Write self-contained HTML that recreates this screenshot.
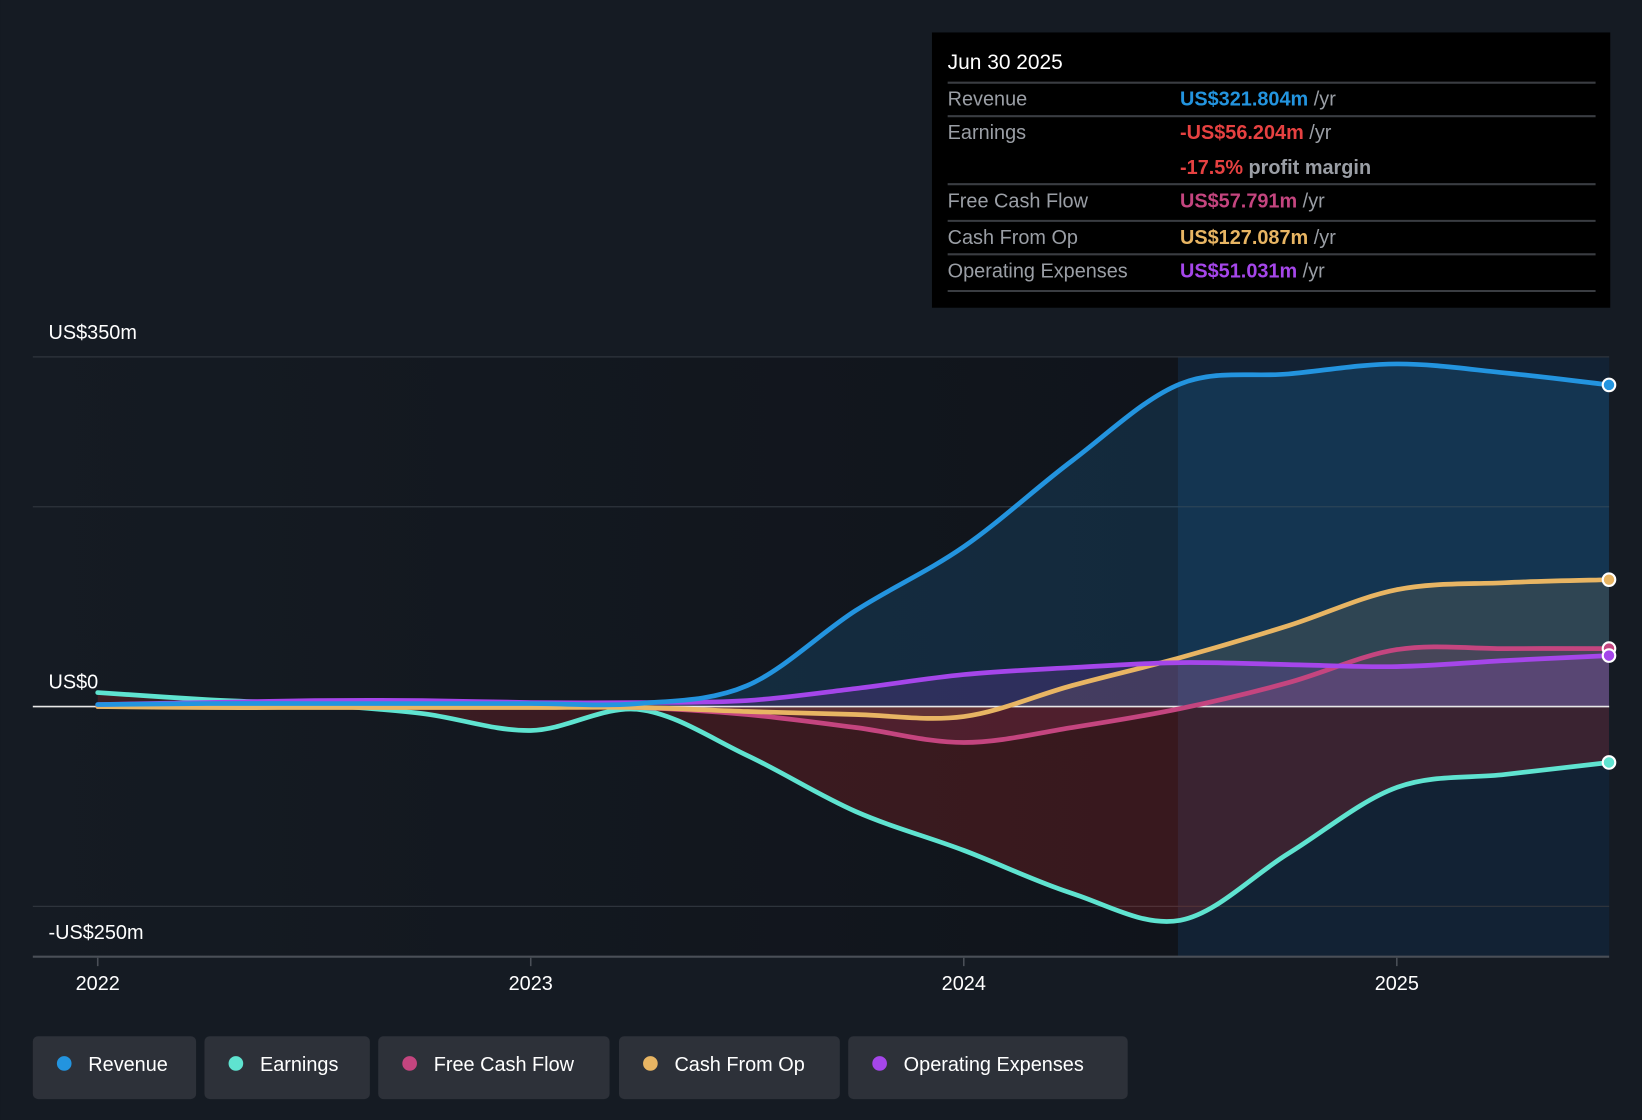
<!DOCTYPE html>
<html><head><meta charset="utf-8"><style>
html,body{margin:0;padding:0;background:#151b23;}
svg{display:block;font-family:"Liberation Sans",sans-serif;}
</style></head><body>
<svg id="c" width="1642" height="1120" viewBox="0 0 1568 1070">
<defs>
<linearGradient id="bgL" x1="0" x2="1" y1="0" y2="0"><stop offset="0" stop-color="#151b23"/><stop offset="1" stop-color="#10141b"/></linearGradient>
</defs>
<rect x="0" y="0" width="1568" height="1070" fill="#151b23"/>
<rect x="31" y="341" width="1094" height="573" fill="url(#bgL)"/>
<rect x="1125" y="341" width="412" height="573" fill="#122234"/>
<g id="grid"></g>
<g id="areas"></g>
<g id="lines"></g>
<g id="axis"></g>
<text x="46" y="324" fill="#fff" font-size="19">US$350m</text>
<text x="46" y="658" fill="#fff" font-size="19">US$0</text>
<text x="46" y="897" fill="#fff" font-size="19">-US$250m</text>
<g>
<rect x="890" y="31" width="648" height="263" fill="#000"/>
<text x="905" y="66" fill="#fff" font-size="20">Jun 30 2025</text>
<g stroke="#3a3d42" stroke-width="2">
<line x1="905" x2="1524" y1="79" y2="79"/><line x1="905" x2="1524" y1="111" y2="111"/>
<line x1="905" x2="1524" y1="176" y2="176"/><line x1="905" x2="1524" y1="211" y2="211"/>
<line x1="905" x2="1524" y1="243" y2="243"/><line x1="905" x2="1524" y1="278" y2="278"/>
</g>
<g font-size="19" fill="#9a9ea5">
<text x="905" y="101">Revenue</text><text x="905" y="133">Earnings</text>
<text x="905" y="198">Free Cash Flow</text><text x="905" y="233">Cash From Op</text>
<text x="905" y="265">Operating Expenses</text>
</g>
<g font-size="19" font-weight="bold">
<text x="1127" y="101"><tspan fill="#2394df">US$321.804m</tspan><tspan fill="#9a9ea5" font-weight="normal"> /yr</tspan></text>
<text x="1127" y="133"><tspan fill="#e64141">-US$56.204m</tspan><tspan fill="#9a9ea5" font-weight="normal"> /yr</tspan></text>
<text x="1127" y="166"><tspan fill="#e64141">-17.5%</tspan><tspan fill="#9a9ea5"> profit margin</tspan></text>
<text x="1127" y="198"><tspan fill="#c4457f">US$57.791m</tspan><tspan fill="#9a9ea5" font-weight="normal"> /yr</tspan></text>
<text x="1127" y="233"><tspan fill="#e8b563">US$127.087m</tspan><tspan fill="#9a9ea5" font-weight="normal"> /yr</tspan></text>
<text x="1127" y="265"><tspan fill="#a546ea">US$51.031m</tspan><tspan fill="#9a9ea5" font-weight="normal"> /yr</tspan></text>
</g>
</g>
<g id="legend"></g>
</svg>
<script>
const times=[2022,2022.25,2022.5,2022.75,2023,2023.25,2023.5,2023.75,2024,2024.25,2024.5,2024.75,2025,2025.25,2025.49];
const revenue=[2,3,3,3,3,3,21,96,160,246,323,333,343,334,322];
const earnings=[14,7,2,-7,-24,-3,-49,-105,-144,-187,-214,-147,-81,-68,-56];
const fcf=[0,0,0,0,0,-1,-8,-21,-36,-21,-2,24,57,58,58];
const cfo=[0,-1,-1,-1,-1,-1,-5,-8,-10,21,49,81,117,124,127];
const opex=[2,4,6,6,4,4,6,18,32,39,44,42,40,46,51];
const yTicks=[350,200,-200];
const xTicks=[2022,2023,2024,2025];
const NS="http://www.w3.org/2000/svg";
const X=t=>93+(t-2022)*413.7;
const Y=v=>675-v*0.9543;
function mk(tag,attrs,parent){const e=document.createElementNS(NS,tag);for(const k in attrs)e.setAttribute(k,attrs[k]);parent.appendChild(e);return e;}
function pathD(vals){const p=vals.map((v,i)=>[X(times[i]),Y(v)]);let d="M"+p[0][0]+","+p[0][1];
for(let i=0;i<p.length-1;i++){const p0=p[i-1]||p[i],p1=p[i],p2=p[i+1],p3=p[i+2]||p2;
const c1=[p1[0]+(p2[0]-p0[0])/6,p1[1]+(p2[1]-p0[1])/6],c2=[p2[0]-(p3[0]-p1[0])/6,p2[1]-(p3[1]-p1[1])/6];
d+=`C${c1[0]},${c1[1]} ${c2[0]},${c2[1]} ${p2[0]},${p2[1]}`;}return d;}
const grid=document.getElementById('grid');
yTicks.forEach(v=>{const l=mk('line',{x1:31,x2:1537,y1:Y(v),y2:Y(v),stroke:'#2e343c','stroke-width':1.2},grid);

});
const series=[
{n:'revenue',v:revenue,c:'#2394df',f:'rgba(35,148,223,0.17)'},
{n:'earnings',v:earnings,c:'#5fe3d0',f:'rgba(200,40,40,0.22)'},
{n:'free-cash-flow',v:fcf,c:'#c4457f',f:'rgba(196,69,127,0.16)'},
{n:'cash-from-op',v:cfo,c:'#e8b563',f:'rgba(232,181,99,0.13)'},
{n:'operating-expenses',v:opex,c:'#a546ea',f:'rgba(165,70,234,0.18)'}];
const areas=document.getElementById('areas'),lines=document.getElementById('lines');
series.forEach(s=>{const d=pathD(s.v);const xe=X(times[times.length-1]),xs=X(times[0]);
const a=mk('path',{d:d+`L${xe},${Y(0)}L${xs},${Y(0)}Z`,fill:s.f},areas);

});
const zl=mk('line',{x1:31,x2:1537,y1:Y(0),y2:Y(0),stroke:'#e8e8e8','stroke-width':1.5},lines);


[1,2,3,4,0].forEach(i=>{const s=series[i];
const l=mk('path',{d:pathD(s.v),fill:'none',stroke:s.c,'stroke-width':4.5,'stroke-linecap':'round'},lines);


const last=s.v.length-1;
const dt=mk('circle',{cx:X(times[last]),cy:Y(s.v[last]),r:6,fill:s.c,stroke:'#fff','stroke-width':2},lines);

});
const ax=document.getElementById('axis');
const al=mk('line',{x1:31,x2:1537,y1:914,y2:914,stroke:'#4a4f57','stroke-width':2},ax);


xTicks.forEach(t=>{mk('line',{x1:X(t),x2:X(t),y1:915,y2:923,stroke:'#4a4f57','stroke-width':1.5},ax);
const tx=mk('text',{x:X(t),y:946,fill:'#fff','font-size':19,'text-anchor':'middle'},ax);tx.textContent=t;

});
const legend=document.getElementById('legend');
const items=[['Revenue','#2394df',31,156],['Earnings','#5fe3d0',195,158],['Free Cash Flow','#c4457f',361,221],['Cash From Op','#e8b563',591,211],['Operating Expenses','#a546ea',810,267]];
items.forEach(it=>{const g=mk('g',{},legend);


mk('rect',{x:it[2],y:990,width:it[3],height:60,rx:5,fill:'#2d3139'},g);
mk('circle',{cx:it[2]+30,cy:1016,r:7,fill:it[1]},g);
const t=mk('text',{x:it[2]+53,y:1023,fill:'#fff','font-size':19},g);t.textContent=it[0];});
</script>
</body></html>
